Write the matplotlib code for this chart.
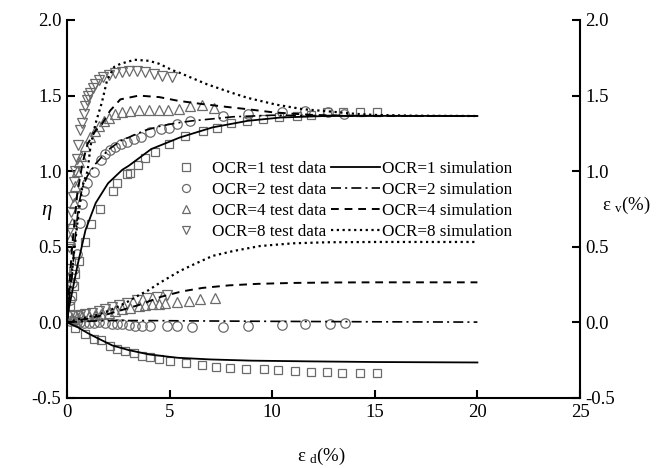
import matplotlib
matplotlib.use("Agg")
import matplotlib.pyplot as plt
from matplotlib.lines import Line2D

plt.rcParams['font.family'] = ['Liberation Serif', 'DejaVu Serif']
plt.rcParams['mathtext.fontset'] = 'custom'
plt.rcParams['mathtext.rm'] = 'Liberation Serif'
plt.rcParams['mathtext.it'] = 'Liberation Serif:italic'
plt.rcParams['axes.unicode_minus'] = False

# ---------------- data: stress ratio eta (test) ----------------
ocr1_eta_x = [0.16, 0.24, 0.33, 0.41, 0.57, 0.89, 1.18, 1.59, 2.23, 2.44, 2.92, 3.09, 3.46, 3.82,
              4.27, 4.99, 5.75, 6.61, 7.29, 7.98, 8.76, 9.55, 10.33, 11.19, 11.89, 12.65, 13.45, 14.28, 15.1]
ocr1_eta_y = [0.108, 0.174, 0.24, 0.318, 0.406, 0.532, 0.649, 0.748, 0.87, 0.92, 0.98, 0.99, 1.04, 1.084,
              1.128, 1.183, 1.234, 1.267, 1.289, 1.318, 1.333, 1.344, 1.357, 1.366, 1.371, 1.389, 1.39, 1.39, 1.393]

ocr2_eta_x = [0.16, 0.24, 0.33, 0.49, 0.65, 0.73, 0.81, 0.97, 1.3, 1.67, 1.87, 2.11, 2.36, 2.65, 2.92, 3.25,
              3.62, 4.06, 4.6, 4.95, 5.36, 6.0, 7.6, 8.8, 10.5, 11.6, 12.7, 13.5]
ocr2_eta_y = [0.15, 0.26, 0.35, 0.45, 0.66, 0.78, 0.87, 0.92, 0.995, 1.075, 1.113, 1.141, 1.163, 1.179, 1.194,
              1.212, 1.227, 1.256, 1.278, 1.289, 1.311, 1.333, 1.364, 1.377, 1.39, 1.4, 1.39, 1.38]

ocr4_eta_x = [0.08, 0.16, 0.24, 0.33, 0.41, 0.49, 0.6, 0.7, 0.89, 1.14, 1.35, 1.54, 1.79, 2.03, 2.36, 2.68,
              3.09, 3.52, 4.01, 4.47, 4.92, 5.44, 6.0, 6.56, 7.16]
ocr4_eta_y = [0.3, 0.55, 0.66, 0.79, 0.9, 1.0, 1.06, 1.1, 1.168, 1.223, 1.267, 1.3, 1.333, 1.355, 1.377, 1.389,
              1.40, 1.406, 1.406, 1.406, 1.406, 1.41, 1.432, 1.437, 1.42]

ocr8_eta_x = [0.04, 0.08, 0.16, 0.21, 0.28, 0.33, 0.39, 0.47, 0.55, 0.65, 0.72, 0.81, 0.88, 0.97, 1.04, 1.14,
              1.25, 1.38, 1.54, 1.74, 2.03, 2.36, 2.68, 3.0, 3.41, 3.82, 4.22, 4.63, 5.12]
ocr8_eta_y = [0.35, 0.5, 0.62, 0.73, 0.83, 0.93, 1.0, 1.08, 1.17, 1.27, 1.32, 1.38, 1.43, 1.47, 1.5, 1.52,
              1.548, 1.576, 1.6, 1.62, 1.636, 1.65, 1.654, 1.66, 1.66, 1.654, 1.64, 1.63, 1.62]

# ---------------- data: eta (simulation) ----------------
sim1_eta_x = [0, 0.1, 0.25, 0.5, 0.9, 1.4, 2.0, 2.7, 3.0, 4.1, 5.5, 7.1, 8.8, 10.4, 12.8, 15, 20]
sim1_eta_y = [0, 0.1, 0.2, 0.37, 0.61, 0.79, 0.92, 1.01, 1.035, 1.146, 1.223, 1.29, 1.333, 1.355, 1.366, 1.366, 1.365]

sim2_eta_x = [0, 0.1, 0.25, 0.4, 0.57, 0.75, 1.0, 1.4, 2.0, 2.6, 3.8, 4.6, 5.4, 6.1, 7.0, 8.1, 10, 12, 20]
sim2_eta_y = [0, 0.15, 0.31, 0.56, 0.78, 0.89, 0.97, 1.05, 1.14, 1.2, 1.27, 1.30, 1.32, 1.333, 1.345, 1.36, 1.37, 1.368, 1.365]

sim4_eta_x = [0, 0.1, 0.25, 0.5, 0.75, 1.0, 1.4, 1.7, 2.1, 2.6, 3.5, 4.5, 5.4, 6.6, 7.8, 8.8, 10, 11, 12, 14, 20]
sim4_eta_y = [0, 0.22, 0.5, 0.85, 1.05, 1.18, 1.27, 1.31, 1.40, 1.475, 1.5, 1.49, 1.466, 1.444, 1.425, 1.41,
              1.39, 1.38, 1.372, 1.366, 1.365]

sim8_eta_x = [0, 0.1, 0.25, 0.5, 0.75, 1.0, 1.15, 1.4, 1.7, 1.95, 2.3, 2.6, 3.3, 4.0, 4.5, 5.1, 5.5, 6.8, 8.0,
              8.8, 10.2, 11.5, 12.8, 14, 15, 17, 20]
sim8_eta_y = [0, 0.15, 0.35, 0.65, 0.90, 1.0, 1.17, 1.32, 1.455, 1.6, 1.69, 1.71, 1.737, 1.73, 1.71, 1.67, 1.65,
              1.576, 1.52, 1.485, 1.44, 1.41, 1.395, 1.38, 1.372, 1.367, 1.365]

# ---------------- data: volumetric strain (test) ----------------
ocr1_ev_x = [0.41, 0.89, 1.3, 1.67, 2.11, 2.44, 2.84, 3.25, 3.65, 4.06, 4.47, 5.03, 5.8, 6.58, 7.28, 7.96,
             8.74, 9.6, 10.3, 11.1, 11.9, 12.65, 13.39, 14.28, 15.09]
ocr1_ev_y = [-0.035, -0.08, -0.108, -0.115, -0.157, -0.179, -0.19, -0.205, -0.223, -0.227, -0.24, -0.252,
             -0.267, -0.285, -0.294, -0.3, -0.307, -0.311, -0.316, -0.322, -0.327, -0.327, -0.333, -0.333, -0.333]

ocr2_ev_x = [0.16, 0.33, 0.49, 0.65, 0.81, 1.05, 1.3, 1.58, 1.87, 2.2, 2.45, 2.68, 3.0, 3.3, 3.65, 4.06,
             4.87, 5.36, 6.09, 7.6, 8.8, 10.5, 11.6, 12.8, 13.55]
ocr2_ev_y = [0.01, 0.01, 0.0, 0.0, -0.002, -0.005, -0.005, 0.005, -0.002, -0.01, -0.01, -0.013, -0.02, -0.024,
             -0.024, -0.024, -0.024, -0.024, -0.029, -0.029, -0.024, -0.02, -0.013, -0.009, -0.002]

ocr4_ev_x = [0.24, 0.49, 0.73, 1.06, 1.38, 1.67, 2.03, 2.36, 2.68, 3.09, 3.49, 3.82, 4.14, 4.5, 4.79, 5.36,
             5.93, 6.5, 7.23]
ocr4_ev_y = [0.03, 0.035, 0.04, 0.042, 0.046, 0.053, 0.064, 0.075, 0.086, 0.097, 0.108, 0.113, 0.119, 0.125,
             0.13, 0.134, 0.141, 0.152, 0.163]

ocr8_ev_x = [0.16, 0.41, 0.65, 0.89, 1.22, 1.54, 1.87, 2.19, 2.52, 2.92, 3.41, 3.9, 4.39, 4.87]
ocr8_ev_y = [0.04, 0.045, 0.05, 0.055, 0.065, 0.075, 0.086, 0.1, 0.115, 0.13, 0.145, 0.16, 0.17, 0.18]

# ---------------- data: volumetric strain (simulation) ----------------
sim1_ev_x = [0, 0.5, 1, 1.5, 2.2, 3, 4, 5.4, 7, 9, 12, 15, 20]
sim1_ev_y = [0, -0.03, -0.07, -0.105, -0.152, -0.183, -0.212, -0.234, -0.245, -0.253, -0.258, -0.262, -0.265]

sim2_ev_x = [0, 1, 2, 4, 6, 10, 15, 20]
sim2_ev_y = [0, 0.008, 0.012, 0.012, 0.01, 0.007, 0.004, 0.002]

sim4_ev_x = [0, 0.5, 1, 1.5, 2, 2.5, 3, 3.5, 4, 4.6, 5.6, 6.6, 7.9, 9.3, 11, 13, 15, 20]
sim4_ev_y = [0, 0.01, 0.025, 0.04, 0.055, 0.075, 0.095, 0.115, 0.14, 0.17, 0.205, 0.228, 0.245, 0.255, 0.261,
             0.264, 0.265, 0.265]

sim8_ev_x = [0, 0.5, 1, 1.5, 2, 2.5, 3, 3.5, 4, 4.5, 5, 5.5, 6.2, 7.1, 8.1, 9.4, 11, 12.7, 15, 20]
sim8_ev_y = [0, 0.02, 0.035, 0.05, 0.075, 0.105, 0.14, 0.18, 0.215, 0.26, 0.3, 0.34, 0.385, 0.44, 0.472,
             0.505, 0.523, 0.53, 0.532, 0.532]

x_ticks = [0, 5, 10, 15, 20, 25]
y_ticks = [-0.5, 0.0, 0.5, 1.0, 1.5, 2.0]
y_ticklabels = ['-0.5', '0.0', '0.5', '1.0', '1.5', '2.0']

labels_test = ['OCR=1 test data', 'OCR=2 test data', 'OCR=4 test data', 'OCR=8 test data']
labels_sim = ['OCR=1 simulation', 'OCR=2 simulation', 'OCR=4 simulation', 'OCR=8 simulation']

# ---------------- styles ----------------
mk_col = '#6a6a6a'
markers = ['s', 'o', '^', 'v']
msizes = [6.2, 6.8, 7.6, 7.6]
lstyles = ['-', (0, (6, 2.5, 1.2, 2.5)), (0, (4, 3)), (0, (1, 1.6))]
lwidths = [1.3, 1.2, 1.4, 1.6]

fig = plt.figure(figsize=(6.65, 4.68), dpi=100)
ax = fig.add_axes([67 / 665, 70 / 468, 513 / 665, 378 / 468])

tests_eta = [(ocr1_eta_x, ocr1_eta_y), (ocr2_eta_x, ocr2_eta_y), (ocr4_eta_x, ocr4_eta_y), (ocr8_eta_x, ocr8_eta_y)]
tests_ev = [(ocr1_ev_x, ocr1_ev_y), (ocr2_ev_x, ocr2_ev_y), (ocr4_ev_x, ocr4_ev_y), (ocr8_ev_x, ocr8_ev_y)]
sims_eta = [(sim1_eta_x, sim1_eta_y), (sim2_eta_x, sim2_eta_y), (sim4_eta_x, sim4_eta_y), (sim8_eta_x, sim8_eta_y)]
sims_ev = [(sim1_ev_x, sim1_ev_y), (sim2_ev_x, sim2_ev_y), (sim4_ev_x, sim4_ev_y), (sim8_ev_x, sim8_ev_y)]

handles_t, handles_s = [], []
for i in range(4):
    for (tx, ty) in (tests_eta[i], tests_ev[i]):
        ax.plot(tx, ty, linestyle='none', marker=markers[i], ms=msizes[i], mfc='none',
                mec=mk_col, mew=0.9, zorder=2)
    for (sx, sy) in (sims_eta[i], sims_ev[i]):
        ax.plot(sx, sy, color='black', linestyle=lstyles[i], lw=lwidths[i], zorder=3)
    handles_t.append(Line2D([], [], linestyle='none', marker=markers[i], ms=msizes[i] * 0.85,
                            mfc='none', mec=mk_col, mew=0.9, label=labels_test[i]))
    handles_s.append(Line2D([], [], color='black', linestyle=lstyles[i], lw=lwidths[i], label=labels_sim[i]))

ax.set_xlim(0, 25)
ax.set_ylim(-0.5, 2.0)
ax.set_xticks(x_ticks)
ax.set_yticks(y_ticks)
ax.set_yticklabels(y_ticklabels)
ax.spines['top'].set_visible(False)
for s in ['left', 'right', 'bottom']:
    ax.spines[s].set_linewidth(1.5)
ax.tick_params(axis='both', direction='in', length=6, width=1.5, labelsize=13.5, pad=4)
ax.tick_params(axis='y', which='both', right=True, labelright=True)

ax.text(-0.04, 0.495, 'η', transform=ax.transAxes, fontsize=15, fontstyle='italic',
        ha='center', va='center')
ax.text(1.09, 0.51, 'ε $_{\\rm v}$(%)', transform=ax.transAxes, fontsize=13.5, ha='center', va='center')
ax.text(0.497, -0.155, 'ε $_{\\rm d}$(%)', transform=ax.transAxes, fontsize=13.5, ha='center', va='center')

leg = ax.legend(handles=handles_t + handles_s, ncol=2, loc='upper left',
                bbox_to_anchor=(0.183, 0.628), frameon=False, fontsize=12.3,
                handlelength=2.9, handletextpad=0.1, columnspacing=0.25,
                labelspacing=0.3, borderpad=0, borderaxespad=0)

fig.savefig('out.png', dpi=100)
